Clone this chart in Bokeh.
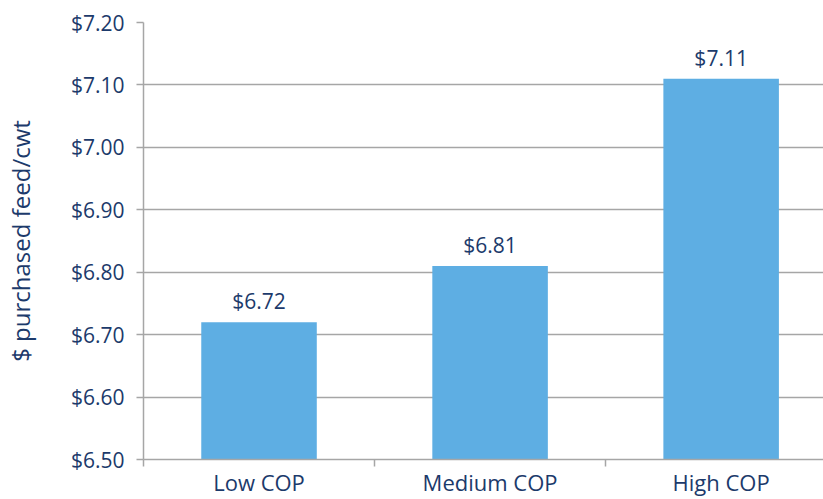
from bokeh.plotting import figure
from bokeh.models import Range1d, FixedTicker, ColumnDataSource, NumeralTickFormatter
from bokeh.embed import file_html
from bokeh.resources import INLINE
from bokeh.core.properties import value

categories = ["Low COP", "Medium COP", "High COP"]
costs = [6.72, 6.81, 7.11]
labels = ["$6.72", "$6.81", "$7.11"]
y_ticks = [6.5, 6.6, 6.7, 6.8, 6.9, 7.0, 7.1, 7.2]

FONT = "Open Sans"
TEXT = "#1c3a6b"
GRID = "#a6a6a6"
BAR = "#5eaee3"

xs = [i + 0.5 for i in range(len(categories))]
src = ColumnDataSource(dict(x=xs, top=costs, lab=labels))

p = figure(width=823, height=499, output_backend="svg", toolbar_location=None,
           x_range=Range1d(0, 2.943), y_range=Range1d(6.5, 7.2),
           min_border_left=0, min_border_right=0, min_border_top=22, min_border_bottom=30)
p.outline_line_color = None
p.background_fill_color = "white"

p.vbar(x="x", top="top", bottom=6.5, width=0.5, source=src, fill_color=BAR, line_color=None)
p.text(x="x", y="top", text="lab", source=src, text_align="center", text_baseline="bottom",
       y_offset=-7, text_font=value(FONT), text_font_size="21px", text_color=TEXT)

# x axis
p.xaxis.ticker = FixedTicker(ticks=xs, minor_ticks=[0, 1, 2, 3])
p.xaxis.major_label_overrides = {x: c for x, c in zip(xs, categories)}
p.xaxis.major_tick_line_color = None
p.xaxis.major_tick_out = 0
p.xaxis.major_tick_in = 0
p.xaxis.minor_tick_line_color = GRID
p.xaxis.minor_tick_line_width = 1.5
p.xaxis.minor_tick_out = 7
p.xaxis.minor_tick_in = 0
p.xaxis.axis_line_color = GRID
p.xaxis.axis_line_width = 1.5
p.xaxis.major_label_text_font = FONT
p.xaxis.major_label_text_font_size = "22px"
p.xaxis.major_label_text_color = TEXT
p.xaxis.major_label_standoff = 0

# y axis
p.yaxis.ticker = FixedTicker(ticks=y_ticks)
p.yaxis.formatter = NumeralTickFormatter(format="$0.00")
p.yaxis.major_tick_line_color = GRID
p.yaxis.major_tick_line_width = 1.5
p.yaxis.major_tick_out = 7
p.yaxis.major_tick_in = 0
p.yaxis.minor_tick_line_color = None
p.yaxis.axis_line_color = GRID
p.yaxis.axis_line_width = 1.5
p.yaxis.major_label_text_font = FONT
p.yaxis.major_label_text_font_size = "21px"
p.yaxis.major_label_text_color = TEXT
p.yaxis.major_label_standoff = 12
p.yaxis.axis_label = "$ purchased feed/cwt"
p.yaxis.axis_label_text_font = FONT
p.yaxis.axis_label_text_font_size = "24px"
p.yaxis.axis_label_text_font_style = "normal"
p.yaxis.axis_label_text_color = TEXT
p.yaxis.axis_label_standoff = 31

p.xgrid.grid_line_color = None
p.ygrid.ticker = FixedTicker(ticks=y_ticks)
p.ygrid.grid_line_color = GRID
p.ygrid.grid_line_width = 1.5

open("out.html", "w").write(file_html(p, INLINE))
